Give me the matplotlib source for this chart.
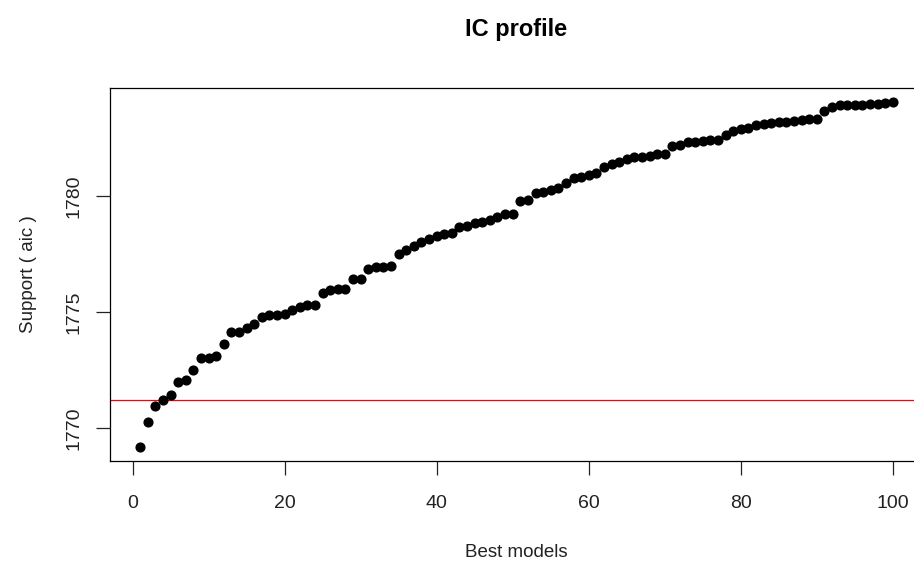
import numpy as np
import matplotlib
matplotlib.use("Agg")
import matplotlib.pyplot as plt

plt.rcParams['font.family'] = ['Liberation Sans', 'DejaVu Sans']

# support (aic) of the 100 best models, sorted
support = [
    1769.19, 1770.28, 1770.96, 1771.23, 1771.43, 1772.00, 1772.07, 1772.51, 1773.01, 1773.02,
    1773.09, 1773.64, 1774.14, 1774.16, 1774.29, 1774.48, 1774.80, 1774.87, 1774.89, 1774.91,
    1775.08, 1775.21, 1775.28, 1775.30, 1775.83, 1775.93, 1775.97, 1776.00, 1776.40, 1776.44,
    1776.86, 1776.93, 1776.94, 1777.00, 1777.51, 1777.69, 1777.83, 1778.00, 1778.14, 1778.26,
    1778.36, 1778.40, 1778.66, 1778.70, 1778.84, 1778.87, 1778.97, 1779.09, 1779.23, 1779.24,
    1779.76, 1779.83, 1780.11, 1780.18, 1780.26, 1780.33, 1780.57, 1780.76, 1780.80, 1780.90,
    1780.97, 1781.26, 1781.37, 1781.47, 1781.61, 1781.66, 1781.68, 1781.71, 1781.80, 1781.82,
    1782.14, 1782.21, 1782.30, 1782.33, 1782.36, 1782.40, 1782.42, 1782.61, 1782.80, 1782.86,
    1782.93, 1783.04, 1783.09, 1783.14, 1783.18, 1783.19, 1783.23, 1783.26, 1783.30, 1783.33,
    1783.66, 1783.83, 1783.90, 1783.90, 1783.91, 1783.92, 1783.94, 1783.97, 1784.00, 1784.04,
]
models = list(range(1, len(support) + 1))
threshold = 1771.2  # red reference line
xticks = [0, 20, 40, 60, 80, 100]
yticks = [1770, 1775, 1780]

W, H = 914, 563
fig = plt.figure(figsize=(W / 100, H / 100), dpi=100)
# axes box in pixels: left 110, right 923 (cut off by the picture), top 88, bottom 461
ax = fig.add_axes([110.2 / W, (H - 460.7) / H, 812.6 / W, 372.4 / H])

ax.plot(models, support, 'o', color='black', markersize=6.3, zorder=3)
ax.axhline(threshold, color='red', linewidth=0.9)

# R style 4% padding
xr = max(models) - min(models)
ax.set_xlim(min(models) - 0.04 * xr, max(models) + 0.04 * xr)
yr = max(support) - min(support)
ax.set_ylim(min(support) - 0.04 * yr, max(support) + 0.04 * yr)

ax.set_xticks(xticks)
ax.set_yticks(yticks)
ax.set_yticklabels([str(v) for v in yticks], rotation=90, va='center')
ax.tick_params(axis='both', direction='out', length=9.8, width=0.9, labelsize=14,
               colors='#222222')
ax.tick_params(axis='x', pad=15)
ax.tick_params(axis='y', pad=10)
for s in ax.spines.values():
    s.set_linewidth(0.9)
    s.set_color('black')

ax.set_xlabel('Best models', fontsize=13.5, labelpad=23, color='#222222')
ax.set_ylabel('Support ( aic )', fontsize=13.5, labelpad=21, color='#222222')
ax.set_title('IC profile', fontsize=17, fontweight='bold', pad=38)

fig.savefig('out.png', dpi=100)
